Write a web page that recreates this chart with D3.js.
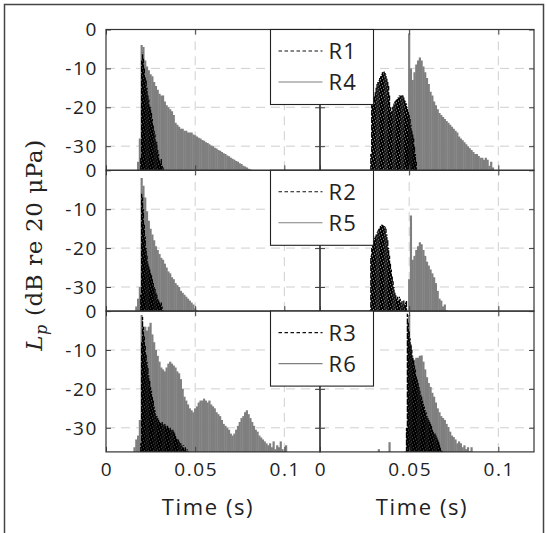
<!DOCTYPE html>
<html>
<head>
<meta charset="utf-8">
<script src="https://cdn.jsdelivr.net/npm/d3@7"></script>
<style>
    body { margin: 0; background: #fff; }
    svg { display: block; }
    .tick-label { font-family: "Open Sans", sans-serif; font-size: 19px; letter-spacing: 1.6px; fill: #222; }
    .legend-label { font-family: "Open Sans", sans-serif; font-size: 22px; letter-spacing: 1.2px; fill: #222; }
    .axis-title { font-family: "Open Sans", sans-serif; font-size: 22px; letter-spacing: 1.6px; fill: #222; }
    .y-title, .y-title tspan { font-family: "DejaVu Serif", serif; font-size: 23px; letter-spacing: 0.6px; fill: #222; }
</style>
</head>
<body>
<svg id="chart" width="547" height="533"></svg>
<script>
// sampling step of the levels (s)
const grayStep = 0.001;
const blackStep = 0.0005;

// left column, top row
const r1LeftStart = 0.0195;
const r1Left = [-33, -8, -6, -7.5, -10, -12, -13, -15, -17, -18, -19.5, -20, -21.5, -23, -24.5, -26, -27, -28.5, -29, -31, -32, -33.5, -34, -33, -35, -35.5, -38];
const r4LeftStart = 0.018;
const r4Left = [-34, -28, -4, -4.5, -8, -9.5, -10.5, -11.5, -12, -13.5, -14.5, -15.5, -16.5, -17, -17, -18.5, -19.5, -20, -20.5, -21, -22, -24, -24.5, -25, -25.5, -25.5, -26, -26, -26.5, -26.5, -26.5,
    -27, -27.2, -27.5, -27.8, -28, -28.4, -28.6, -29, -29.2, -29.5, -29.8, -30, -30.4, -30.6, -31, -31.2, -31.5, -31.8, -32, -32.4, -32.6, -33, -33.2, -33.5, -33.8, -34, -34.4, -34.6, -35, -35.2, -35.5, -35.8, -36, -38];

// right column, top row
const r1RightStart = 0.0285;
const r1Right = [-32, -19, -17.5, -18, -17, -16, -15, -14, -13.5, -13, -12.5, -12, -11.5, -11, -11, -10.8, -11, -11.5, -12.5, -13.5, -14.5, -17, -20, -21, -20, -19.5, -19, -18.5, -18, -18, -17.5, -17.5, -17,
    -17, -17, -16.9, -17, -17.5, -18, -18.5, -19, -20, -21, -22, -23, -24.5, -26, -27, -28, -30, -32, -34, -36, -38];
const r4RightStart = 0.049;
const r4Right = [-30, -1, -10, -13, -11, -9, -8, -7.2, -8, -9.5, -11, -12.5, -14, -16, -17, -18.5, -19.5, -20.5, -21.5, -22, -22.5, -23, -23.5, -24, -24.5, -25, -25.5, -26, -26.5, -27.5,
    -28, -28.5, -29, -29.5, -30, -30.5, -31, -31.5, -32, -32, -32.5, -33, -33, -33.5, -33, -33.5, -35, -34, -35.5, -38];

// left column, middle row
const r2LeftStart = 0.0195;
const r2Left = [-32, -6, -7, -10, -14, -17, -20, -22, -23.5, -24.5, -25.5, -26.5, -27, -28, -29, -30, -30.5, -31.5, -32, -33, -33.5, -34, -34.5, -34, -35, -36, -38];
const r5LeftStart = 0.017;
const r5Left = [-35, -33, -30, -2, -4, -7, -10.5, -13, -15, -16.5, -18, -19.5, -20.5, -21.5, -22.5, -23, -24, -25, -26, -26.5, -27.5, -28, -29, -29.5, -30, -31, -31.5, -32, -32.5, -33, -33.5, -34, -34.5, -35.5, -36, -38];

// right column, middle row
const r2RightStart = 0.028;
const r2Right = [-36, -22, -20, -19, -18.5, -17.5, -17, -16.5, -16, -15.5, -15, -14.5, -14.3, -14, -14, -14, -14.3, -14.5, -15, -16.5, -18, -20, -22, -24, -25.5, -27, -28.5, -30, -31.5,
    -32, -33, -32.5, -33.5, -32.5, -33, -34, -33.5, -34.5, -33.5, -34.5, -34, -33.5, -36, -38];
const r5RightStart = 0.05;
const r5Right = [-28, -11.6, -23, -22, -20.5, -19.5, -18.5, -19, -20.5, -22, -23.5, -24.5, -25.5, -26.5, -27.5, -29, -31, -33, -33.5, -35, -34.5, -36, -38];

// left column, bottom row
const r3LeftStart = 0.0195;
const r3Left = [-34, -8, -1.5, -4, -6.5, -9, -11, -13, -14.5, -16.5, -18, -19.5, -20.5, -22, -23, -24.5, -25.5, -26.5, -27, -27.5, -28, -28.5, -28.5, -29, -28.5, -29, -29.5, -29, -29.5, -30,
    -29.5, -30, -30.5, -30, -30.5, -31, -30.5, -31, -31.5, -32, -32.5, -33, -33, -33.5, -34, -34, -34.5, -35, -34.5, -35.5, -35, -36, -35.5, -36, -38];
const r6LeftStart = 0.016;
const r6Left = [-35, -33, -32, -28, -1, -5, -4, -5, -4, -3, -6, -8, -10, -11.5, -13, -14.5, -15, -15.5, -14.5, -13.5, -13, -13.5, -14, -14.5, -15.5, -16, -17.5, -20, -22, -23, -24, -25, -25.5, -26,
    -25, -24.5, -23.5, -23, -23, -22.5, -23, -23.5, -23, -24, -24.5, -25, -26, -26.5, -27, -28, -29, -29.5, -30, -30.5, -31.5, -32, -31.5, -30.5, -29.5, -28.5, -27.5, -27, -26, -25.5,
    -26.5, -27.5, -28.5, -29.5, -30.5, -31, -32, -32.5, -33, -33.5, -34, -34.5, -34, -35, -33.5, -35.5, -34.5, -35, -33.5, -35.5, -36, -34.5, -38];

// right column, bottom row
const r3RightStart = 0.0485;
const r3Right = [-30, -0.7, -3, -5, -7, -8.5, -10, -11.5, -12.5, -14, -15, -16.5, -17.5, -18.5, -19.5, -20.5, -21.5, -22, -23, -23.8, -24.5, -25.5, -26, -27, -27.5, -28, -28.5, -29, -29.5,
    -30.5, -31, -31.5, -31.5, -32, -32.5, -33, -33.5, -34, -35, -35.5, -36, -38];
const r6RightStart = 0.032;
const r6Right = [-40, -35.5, -40, -40, -40, -40, -40, -33.7, -40, -40, -40, -40, -40, -40, -40, -40, -36, -30, -1, -9, -12, -12.5, -12, -12, -11.5, -11.4, -13, -15, -17, -18.5, -19.5, -21, -22,
    -23.5, -25, -26, -27, -27.5, -28, -29, -29.8, -31, -32, -32.4, -33, -34, -33.5, -34, -35, -34.5, -35.5, -35, -36, -35, -38];

const xTicks = [0, 0.05, 0.1];
const xTickLabels = ['0', '0.05', '0.1'];
const yTicks = [0, -10, -20, -30];
const legendNames = [['R1', 'R4'], ['R2', 'R5'], ['R3', 'R6']];

const panels = [
    {row: 0, col: 0, black: [r1LeftStart, r1Left], gray: [r4LeftStart, r4Left]},
    {row: 0, col: 1, black: [r1RightStart, r1Right], gray: [r4RightStart, r4Right]},
    {row: 1, col: 0, black: [r2LeftStart, r2Left], gray: [r5LeftStart, r5Left]},
    {row: 1, col: 1, black: [r2RightStart, r2Right], gray: [r5RightStart, r5Right]},
    {row: 2, col: 0, black: [r3LeftStart, r3Left], gray: [r6LeftStart, r6Left]},
    {row: 2, col: 1, black: [r3RightStart, r3Right], gray: [r6RightStart, r6Right]}
];

const svg = d3.select('#chart');
const colRanges = [[106, 320], [320, 534]];
const rowTops = [29.5, 170.3, 311.1];
const rowHeight = 140.8;
const yMin = -36.2;

// figure frame
svg.append('rect')
    .attr('x', 4.5).attr('y', 4.5)
    .attr('width', 539).attr('height', 545)
    .attr('fill', 'none')
    .attr('stroke', '#444')
    .attr('stroke-width', 1.5);

function drawPanel(p, idx) {
    const x = d3.scaleLinear().domain([0, 0.12]).range(colRanges[p.col]);
    const y = d3.scaleLinear().domain([yMin, 0]).range([rowTops[p.row] + rowHeight, rowTops[p.row]]);
    const g = svg.append('g');

    const clipId = 'clip' + idx;
    svg.append('clipPath').attr('id', clipId)
        .append('rect')
        .attr('x', x.range()[0]).attr('y', y.range()[1])
        .attr('width', x.range()[1] - x.range()[0])
        .attr('height', rowHeight);

    // dashed grid
    g.selectAll('.vgrid')
        .data(xTicks.slice(1))
        .join('line')
        .attr('x1', d => x(d)).attr('x2', d => x(d))
        .attr('y1', y.range()[0]).attr('y2', y.range()[1])
        .attr('stroke', '#cfcfcf')
        .attr('stroke-dasharray', '9,6');
    g.selectAll('.hgrid')
        .data(yTicks.slice(1))
        .join('line')
        .attr('x1', x.range()[0]).attr('x2', x.range()[1])
        .attr('y1', d => y(d)).attr('y2', d => y(d))
        .attr('stroke', '#cfcfcf')
        .attr('stroke-dasharray', '9,6');

    const data = g.append('g').attr('clip-path', `url(#${clipId})`);

    // gray series: one stem per sample, from the floor up to the level
    const [gStart, gVals] = p.gray;
    data.selectAll('.gray')
        .data(gVals)
        .join('line')
        .attr('x1', (d, i) => x(gStart + i * grayStep))
        .attr('x2', (d, i) => x(gStart + i * grayStep))
        .attr('y1', y(yMin) + 1)
        .attr('y2', d => y(Math.max(d, yMin)))
        .attr('stroke', '#7f7f7f')
        .attr('stroke-width', 2.2);

    // black dashed series
    const [bStart, bVals] = p.black;
    data.selectAll('.black')
        .data(bVals)
        .join('line')
        .attr('x1', (d, i) => x(bStart + i * blackStep))
        .attr('x2', (d, i) => x(bStart + i * blackStep))
        .attr('y1', y(yMin) + 1)
        .attr('y2', d => y(Math.max(d, yMin)))
        .attr('stroke', '#000')
        .attr('stroke-width', 1.3)
        .attr('stroke-dasharray', '6,1.3')
        .attr('stroke-dashoffset', (d, i) => (i * 2.9) % 7.3);

    // inward ticks on all four sides
    const x0 = x.range()[0], x1 = x.range()[1];
    const yb = y.range()[0], yt = y.range()[1];
    g.append('g').attr('transform', `translate(${x0},0)`)
        .call(d3.axisLeft(y).tickValues(yTicks).tickSize(-5).tickFormat(''))
        .call(a => a.select('.domain').remove());
    g.append('g').attr('transform', `translate(${x1},0)`)
        .call(d3.axisRight(y).tickValues(yTicks).tickSize(-5).tickFormat(''))
        .call(a => a.select('.domain').remove());
    g.append('g').attr('transform', `translate(0,${yt})`)
        .call(d3.axisTop(x).tickValues(xTicks).tickSize(-5).tickFormat(''))
        .call(a => a.select('.domain').remove());
    g.append('g').attr('transform', `translate(0,${yb})`)
        .call(d3.axisBottom(x).tickValues(xTicks).tickSize(-5).tickFormat(''))
        .call(a => a.select('.domain').remove());
    g.selectAll('.tick line').attr('stroke', '#444');

    g.append('rect')
        .attr('x', x0).attr('y', yt)
        .attr('width', x1 - x0).attr('height', yb - yt)
        .attr('fill', 'none')
        .attr('stroke', '#333')
        .attr('stroke-width', 1.2);

    // tick labels
    if (p.col === 0) {
        g.selectAll('.ylab')
            .data(yTicks)
            .join('text')
            .attr('class', 'tick-label')
            .attr('x', x0 - 8)
            .attr('y', d => y(d))
            .attr('dy', '0.36em')
            .attr('text-anchor', 'end')
            .text(d => d);
    }
    if (p.row === 2) {
        g.selectAll('.xlab')
            .data(xTicks)
            .join('text')
            .attr('class', 'tick-label')
            .attr('x', d => x(d) + 1)
            .attr('y', yb + 24)
            .attr('text-anchor', 'middle')
            .text((d, i) => xTickLabels[i]);
        g.append('text')
            .attr('class', 'axis-title')
            .attr('x', (x0 + x1) / 2 - 5)
            .attr('y', yb + 63)
            .attr('text-anchor', 'middle')
            .text('Time (s)');
    }
}

panels.forEach(drawPanel);

// legends sit on top of both columns
rowTops.forEach((top, r) => {
    const lg = svg.append('g').attr('transform', `translate(270.5,${top})`);
    lg.append('rect')
        .attr('width', 103).attr('height', 75)
        .attr('fill', '#fff')
        .attr('stroke', '#222')
        .attr('stroke-width', 1.1);
    const rows = [
        {name: legendNames[r][0], color: '#111', dash: '3.5,2.5'},
        {name: legendNames[r][1], color: '#808080', dash: null}
    ];
    rows.forEach((d, i) => {
        const yy = 21.5 + i * 31;
        lg.append('line')
            .attr('x1', 8).attr('x2', 52)
            .attr('y1', yy).attr('y2', yy)
            .attr('stroke', d.color)
            .attr('stroke-width', 1.1)
            .attr('stroke-dasharray', d.dash);
        lg.append('text')
            .attr('class', 'legend-label')
            .attr('x', 58)
            .attr('y', yy + 8)
            .text(d.name);
    });
});

// y axis title
const yTitle = svg.append('text')
    .attr('class', 'y-title')
    .attr('transform', 'translate(42,245) rotate(-90)')
    .attr('text-anchor', 'middle');
yTitle.append('tspan').attr('font-style', 'italic').text('L');
yTitle.append('tspan').attr('font-style', 'italic').style('font-size', '16px').attr('dy', 5).text('p');
yTitle.append('tspan').attr('dy', -5).text(' (dB re 20 μPa)');
</script>
</body>
</html>
